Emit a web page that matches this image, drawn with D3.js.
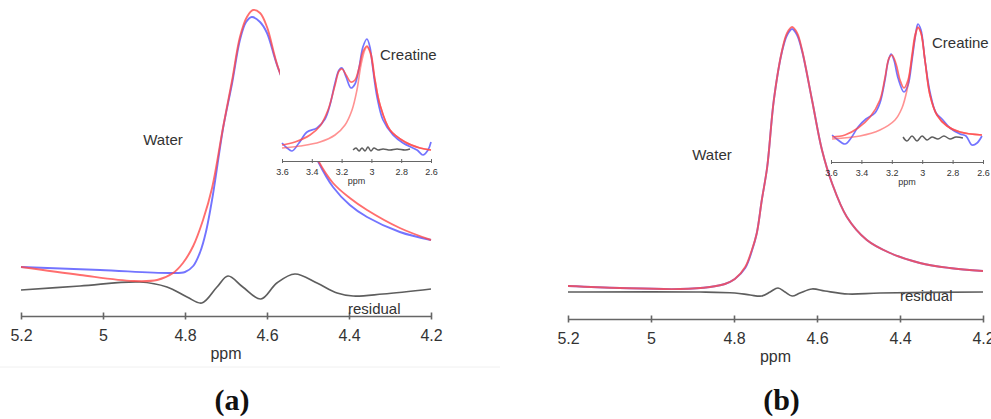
<!DOCTYPE html>
<html>
<head>
<meta charset="utf-8">
<script src="https://cdn.jsdelivr.net/npm/d3@7"></script>
<style>
  body { margin: 0; background: #fff; }
  svg { display: block; }
  text { font-family: "Liberation Sans", Arial, sans-serif; }
</style>
</head>
<body>
<svg id="chart" width="991" height="419"></svg>
<script>
// ---------- data: [chemical shift (ppm), intensity (a.u.)] ----------
const mainTicks  = [5.2, 5, 4.8, 4.6, 4.4, 4.2];
const insetTicks = [3.6, 3.4, 3.2, 3, 2.8, 2.6];
const captions   = ["(a)", "(b)"];

// panel (a): water region
const waterMeasuredA = [
  [5.200,49],[5.007,46],[4.837,43],[4.800,44],[4.780,50],[4.763,64],[4.749,84],
  [4.732,121],[4.707,188],[4.685,233],[4.666,276],[4.651,294],[4.637,299],
  [4.617,294],[4.600,283],[4.573,248],
  [4.476,155],[4.439,129],[4.398,111],[4.356,99],[4.276,84],[4.200,76]
];
const waterFitA = [
  [5.200,49],[5.056,41],[4.927,35],[4.868,36],[4.829,43],[4.805,53],[4.780,70],
  [4.756,96],[4.734,128],[4.707,189],[4.685,236],[4.666,279],[4.649,299],
  [4.634,306],[4.617,303],[4.600,289],[4.571,246],
  [4.476,156],[4.439,133],[4.398,118],[4.356,106],[4.276,88],[4.200,76]
];
const residualA = [
  [5.200,26],[5.056,30],[4.910,34],[4.844,29],[4.795,19],[4.759,13],[4.722,29],
  [4.695,40],[4.659,29],[4.615,17],[4.576,33],[4.532,42],[4.478,33],[4.429,23],
  [4.390,20],[4.317,22],[4.200,27]
];
// panel (a): creatine region
const creatineMeasuredA = [
  [3.600,18],[3.566,13],[3.533,10],[3.486,18],[3.432,29],[3.365,33],[3.311,42],
  [3.278,56],[3.244,78],[3.217,91],[3.197,93],[3.170,84],[3.137,73],[3.110,77],
  [3.083,93],[3.057,114],[3.030,122],[3.010,114],[2.989,91],[2.962,64],
  [2.922,41],[2.855,26],[2.788,18],[2.694,11],[2.654,6],[2.620,11],[2.600,19]
];
const creatineFitA = [
  [3.600,16],[3.513,19],[3.412,26],[3.345,35],[3.291,51],[3.244,76],[3.217,90],
  [3.197,92],[3.170,86],[3.137,79],[3.110,81],[3.083,93],[3.057,109],[3.030,115],
  [3.003,107],[2.976,81],[2.942,56],[2.875,31],[2.774,19],[2.674,13],[2.600,11]
];
const creatinePeakA = [
  [3.600,13],[3.479,15],[3.345,19],[3.244,26],[3.177,36],[3.130,51],[3.097,71],
  [3.070,96],[3.044,111],[3.030,114],[3.010,109],[2.976,81],[2.942,56],
  [2.875,31],[2.774,19],[2.674,13],[2.600,11]
];
const creatineResidualA = [
  [3.123,11],[3.103,13],[3.083,10],[3.063,13],[3.043,10],[3.023,14],[3.003,10],
  [2.983,13],[2.956,11],[2.922,12],[2.875,11],[2.828,12],[2.774,11],[2.741,12]
];

// panel (b): water region
const waterMeasuredB = [
  [5.200,33],[5.075,31],[4.930,30],[4.858,32],[4.822,35],[4.798,40],[4.773,51],
  [4.757,68],[4.745,86],[4.733,119],[4.720,152],[4.704,219],[4.684,268],
  [4.672,284],[4.660,290],[4.648,284],[4.636,268],[4.612,219],[4.588,169],
  [4.564,136],[4.528,102],[4.480,79],[4.424,66],[4.352,56],[4.280,51],[4.200,48]
];
const waterFitB = [
  [5.200,33],[5.075,31],[4.930,30],[4.858,32],[4.822,35],[4.798,40],[4.773,52],
  [4.757,69],[4.745,86],[4.733,119],[4.720,152],[4.704,219],[4.684,269],
  [4.672,286],[4.660,292],[4.648,286],[4.636,269],[4.612,219],[4.588,169],
  [4.564,136],[4.528,102],[4.480,79],[4.424,66],[4.352,56],[4.280,51],[4.200,48]
];
const residualB = [
  [5.200,27],[4.882,27],[4.798,26],[4.761,24],[4.733,23],[4.713,27],[4.694,31],
  [4.677,27],[4.660,23],[4.641,26],[4.612,30],[4.581,28],[4.525,25],[4.448,26],
  [4.200,27]
];
// panel (b): creatine region
const creatineMeasuredB = [
  [3.593,27],[3.554,22],[3.508,18],[3.468,24],[3.422,35],[3.370,43],[3.311,49],
  [3.278,59],[3.245,82],[3.225,100],[3.205,108],[3.186,102],[3.159,84],[3.120,70],
  [3.093,77],[3.067,102],[3.041,130],[3.028,138],[3.008,132],[2.982,102],
  [2.949,70],[2.909,49],[2.870,43],[2.817,34],[2.751,28],[2.712,26],[2.672,17],
  [2.639,19],[2.607,26]
];
const creatineFitB = [
  [3.593,25],[3.508,27],[3.422,34],[3.343,45],[3.278,62],[3.245,84],[3.218,104],
  [3.199,107],[3.172,98],[3.146,82],[3.120,74],[3.093,82],[3.067,107],[3.047,127],
  [3.028,135],[3.008,129],[2.982,102],[2.949,67],[2.903,47],[2.837,36],
  [2.751,30],[2.607,27]
];
const creatinePeakB = [
  [3.593,23],[3.409,26],[3.278,32],[3.179,42],[3.133,54],[3.100,72],[3.074,97],
  [3.047,124],[3.028,134],[3.008,129],[2.982,102],[2.949,67],[2.903,47],
  [2.837,36],[2.751,30],[2.607,27]
];
const creatineResidualB = [
  [3.126,25],[3.100,21],[3.067,26],[3.034,21],[3.001,26],[2.968,22],[2.936,25],
  [2.896,23],[2.857,26],[2.817,23],[2.778,25],[2.732,24]
];

// ---------- layout ----------
const BLUE = "#5a5cff", RED = "#ff4a4a", GREY = "#5e5e5e", INK = "#333";

const panels = [
  {
    caption: captions[0], x0: 21, x1: 431, axisY: 316,
    water: { x: 163, y: 145 }, residual: { x: 348, y: 314 },
    measured: waterMeasuredA, fit: waterFitA, resid: residualA,
    inset: {
      box: [280, 0, 165, 161], x0: 282, x1: 431, axisY: 161,
      label: { x: 380, y: 60 },
      measured: creatineMeasuredA, fit: creatineFitA, peak: creatinePeakA,
      resid: creatineResidualA
    }
  },
  {
    caption: captions[1], x0: 568, x1: 983, axisY: 319,
    water: { x: 712, y: 160 }, residual: { x: 900, y: 301 },
    measured: waterMeasuredB, fit: waterFitB, resid: residualB,
    inset: {
      box: [828, 0, 163, 162], x0: 831, x1: 983, axisY: 162,
      label: { x: 932, y: 48 },
      measured: creatineMeasuredB, fit: creatineFitB, peak: creatinePeakB,
      resid: creatineResidualB
    }
  }
];

const svg = d3.select("#chart");
svg.append("rect").attr("width", 991).attr("height", 419).attr("fill", "#fff");

// thin rule under the left figure
svg.append("line").attr("x1", 0).attr("x2", 500).attr("y1", 367).attr("y2", 367)
  .attr("stroke", "#f0f0f0").attr("stroke-width", 1);

function spectrumLine(x, y) {
  return d3.line().x(d => x(d[0])).y(d => y(d[1])).curve(d3.curveCatmullRom.alpha(0.5));
}

function styleAxis(gAxis, tickHalf, fontSize, labelDy) {
  gAxis.select(".domain").attr("stroke", "#666").attr("stroke-width", tickHalf > 2 ? 1.6 : 1);
  gAxis.selectAll(".tick line").attr("stroke", "#666")
    .attr("stroke-width", tickHalf > 2 ? 1.6 : 1)
    .attr("y1", -tickHalf).attr("y2", tickHalf);
  gAxis.selectAll(".tick text")
    .attr("fill", INK).attr("font-size", fontSize)
    .attr("font-family", "'Liberation Sans', Arial, sans-serif")
    .attr("y", labelDy).attr("dy", 0);
}

panels.forEach(p => {
  const g = svg.append("g");
  const x = d3.scaleLinear().domain([5.2, 4.2]).range([p.x0, p.x1]);
  const y = d3.scaleLinear().domain([0, 300]).range([p.axisY, p.axisY - 300]);
  const line = spectrumLine(x, y);

  // main spectra
  g.append("path").datum(p.resid).attr("d", line)
    .attr("fill", "none").attr("stroke", GREY).attr("stroke-width", 1.7);
  g.append("path").datum(p.measured).attr("d", line)
    .attr("fill", "none").attr("stroke", BLUE).attr("stroke-width", 1.9).attr("stroke-opacity", 0.85);
  g.append("path").datum(p.fit).attr("d", line)
    .attr("fill", "none").attr("stroke", RED).attr("stroke-width", 1.9).attr("stroke-opacity", 0.8);

  // main axis
  const ax = g.append("g").attr("transform", `translate(0,${p.axisY})`)
    .call(d3.axisBottom(x).tickValues(mainTicks).tickSizeOuter(0).tickFormat(d3.format("~g")));
  styleAxis(ax, 3.5, 16, 25);

  g.append("text").attr("x", (p.x0 + p.x1) / 2).attr("y", p.axisY + 43)
    .attr("text-anchor", "middle").attr("font-size", 16).attr("fill", INK).text("ppm");

  g.append("text").attr("x", p.water.x).attr("y", p.water.y)
    .attr("text-anchor", "middle").attr("font-size", 15).attr("fill", INK).text("Water");
  g.append("text").attr("x", p.residual.x).attr("y", p.residual.y)
    .attr("font-size", 15).attr("fill", INK).text("residual");

  // inset: creatine region
  const s = p.inset;
  const gi = svg.append("g");
  gi.append("rect").attr("x", s.box[0]).attr("y", s.box[1])
    .attr("width", s.box[2]).attr("height", s.box[3]).attr("fill", "#fff");
  const xi = d3.scaleLinear().domain([3.6, 2.6]).range([s.x0, s.x1]);
  const yi = d3.scaleLinear().domain([0, 150]).range([s.axisY, s.axisY - 150]);
  const li = spectrumLine(xi, yi);

  gi.append("path").datum(s.resid).attr("d", li)
    .attr("fill", "none").attr("stroke", GREY).attr("stroke-width", 1.5);
  gi.append("path").datum(s.measured).attr("d", li)
    .attr("fill", "none").attr("stroke", BLUE).attr("stroke-width", 1.7).attr("stroke-opacity", 0.85);
  gi.append("path").datum(s.peak).attr("d", li)
    .attr("fill", "none").attr("stroke", RED).attr("stroke-width", 1.6).attr("stroke-opacity", 0.6);
  gi.append("path").datum(s.fit).attr("d", li)
    .attr("fill", "none").attr("stroke", RED).attr("stroke-width", 1.7).attr("stroke-opacity", 0.8);

  const axi = gi.append("g").attr("transform", `translate(0,${s.axisY})`)
    .call(d3.axisBottom(xi).tickValues(insetTicks).tickSizeOuter(0).tickFormat(d3.format("~g")));
  styleAxis(axi, 2, 9, 14);

  gi.append("text").attr("x", (s.x0 + s.x1) / 2).attr("y", s.axisY + 23)
    .attr("text-anchor", "middle").attr("font-size", 9).attr("fill", INK).text("ppm");
  gi.append("text").attr("x", s.label.x).attr("y", s.label.y)
    .attr("font-size", 15).attr("fill", INK).text("Creatine");

  // caption
  svg.append("text").attr("x", (p.x0 + p.x1) / 2 + 6).attr("y", 410)
    .attr("text-anchor", "middle")
    .style("font-family", "'Liberation Serif', 'DejaVu Serif', serif")
    .attr("font-weight", "bold").attr("font-size", 30).attr("fill", "#111")
    .text(p.caption);
});
</script>
</body>
</html>
